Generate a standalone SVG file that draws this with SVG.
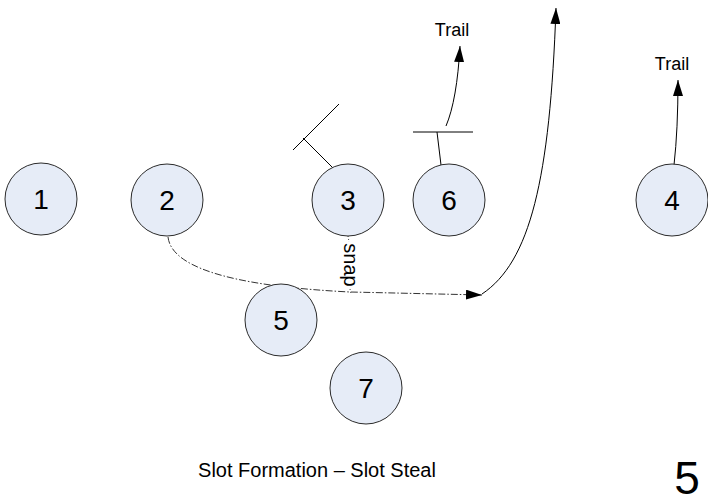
<svg xmlns="http://www.w3.org/2000/svg" width="708" height="504" viewBox="0 0 708 504">
<style>
.node circle{fill:#E6ECF7;stroke:#2b2b2b;stroke-width:1}
.num{font-family:"Liberation Sans",Arial,sans-serif;font-size:28px;fill:#000;text-anchor:middle}
.lbl{font-family:"Liberation Sans",Arial,sans-serif;font-size:18px;fill:#000;text-anchor:middle}
.ln{fill:none;stroke:#000;stroke-width:1}
.dd{fill:none;stroke:#333;stroke-width:1;stroke-dasharray:7 2 1.5 2}
.dot{fill:none;stroke:#444;stroke-width:1;stroke-dasharray:1 2}
</style>
<defs>
<marker id="ah" viewBox="0 0 16 10" refX="16" refY="5" markerWidth="16" markerHeight="10" markerUnits="userSpaceOnUse" orient="auto">
<path d="M0,0 L16,5 L0,10 Z" fill="#000"/>
</marker>
</defs>
<rect width="708" height="504" fill="#fff"/>
<g id="connectors">
<path class="dd" d="M168,237 C172,272 250,287 350,292 L482,295" marker-end="url(#ah)"/>
<path class="ln" d="M482,294 C530,262 550,180 556,8" marker-end="url(#ah)"/>
<path class="ln" d="M333,168 L303,138"/>
<path class="ln" d="M293,150 L339,104"/>
<path class="ln" d="M441,165 L437,132"/>
<path class="ln" d="M413,132 L473,132"/>
<path class="ln" d="M446,126 Q457,100 460,46" marker-end="url(#ah)"/>
<path class="ln" d="M674,165 Q678,130 678,80" marker-end="url(#ah)"/>
<path class="dot" d="M348,236 L349,242"/>
<path class="dot" d="M350,289 L351,294"/>
<text class="lbl" transform="translate(344,265) rotate(90)" style="font-size:20px">snap</text>
<text class="lbl" x="452" y="36">Trail</text>
<text class="lbl" x="672" y="70">Trail</text>
</g>
<g id="n1" class="node"><circle cx="41" cy="199" r="36"/><text class="num" x="41" y="209">1</text></g>
<g id="n2" class="node"><circle cx="167" cy="200" r="36"/><text class="num" x="167" y="210">2</text></g>
<g id="n3" class="node"><circle cx="348" cy="200" r="36"/><text class="num" x="348" y="210">3</text></g>
<g id="n6" class="node"><circle cx="449" cy="200" r="36"/><text class="num" x="449" y="210">6</text></g>
<g id="n4" class="node"><circle cx="672" cy="200" r="36"/><text class="num" x="672" y="210">4</text></g>
<g id="n5" class="node"><circle cx="281" cy="320" r="36"/><text class="num" x="281" y="330">5</text></g>
<g id="n7" class="node"><circle cx="366" cy="388" r="36"/><text class="num" x="366" y="398">7</text></g>
<text class="lbl" x="317" y="477" style="font-size:20px">Slot Formation – Slot Steal</text>
<text class="lbl" x="687" y="494" style="font-size:46px">5</text>
</svg>
